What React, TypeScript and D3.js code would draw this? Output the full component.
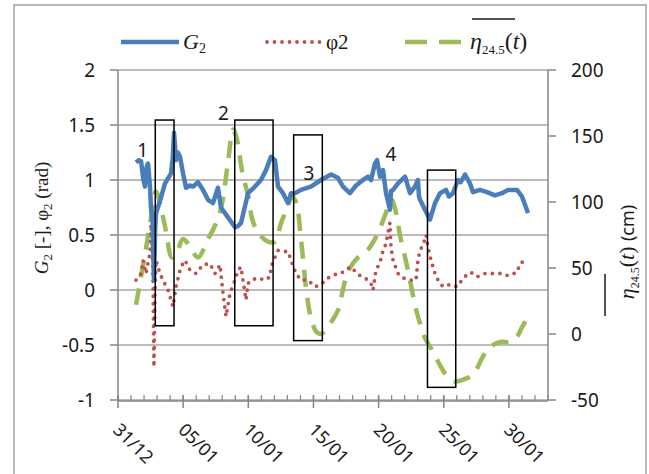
import React from 'react';
import * as d3 from 'd3';

// day offsets counted from 31/12
const tickDays = [0, 5, 10, 15, 20, 25, 30];
const tickLabels = ['31/12', '05/01', '10/01', '15/01', '20/01', '25/01', '30/01'];
const leftTicks = [-1, -0.5, 0, 0.5, 1, 1.5, 2];
const rightTicks = [-50, 0, 50, 100, 150, 200];

const g2Data: [number, number][] = [
  [1.38, 1.16], [1.6, 1.18], [1.77, 1.17], [1.95, 1.0], [2.07, 0.94], [2.2, 1.12], [2.3, 1.15],
  [2.45, 0.95], [2.53, 0.75], [2.65, 0.62], [2.76, 0.09], [2.85, 0.55], [2.92, 0.7], [3.2, 0.8],
  [3.61, 0.97], [4.07, 1.06], [4.2, 1.2], [4.3, 1.43], [4.45, 1.18], [4.6, 1.25], [4.76, 1.21],
  [4.99, 1.06], [5.22, 0.93], [5.5, 0.95], [5.76, 0.94], [6.14, 0.98], [6.52, 0.91], [6.91, 0.82],
  [7.29, 0.79], [7.67, 0.93], [7.9, 0.75], [8.44, 0.66], [8.98, 0.57], [9.2, 0.58], [9.44, 0.61],
  [9.98, 0.88], [10.51, 0.94], [10.97, 1.0], [11.36, 1.09], [11.74, 1.21], [12.05, 1.18],
  [12.28, 0.94], [12.66, 0.88], [13.05, 0.79], [13.28, 0.88], [13.58, 0.88], [14.04, 0.91],
  [14.81, 0.94], [15.58, 1.0], [16.35, 1.05], [16.88, 1.02], [17.27, 0.94], [17.8, 0.88],
  [18.27, 0.95], [18.8, 1.0], [19.19, 1.03], [19.42, 1.0], [19.72, 1.15], [19.88, 1.18],
  [20.11, 1.03], [20.34, 1.09], [20.57, 0.88], [20.87, 0.73], [20.95, 0.9], [21.11, 0.91],
  [21.49, 0.97], [22.03, 1.03], [22.41, 0.88], [22.79, 0.94], [23.02, 1.0], [23.1, 0.85],
  [23.18, 0.82], [23.56, 0.73], [23.94, 0.64], [24.33, 0.79], [24.71, 0.88], [25.17, 0.91],
  [25.4, 0.85], [25.71, 0.88], [26.09, 1.0], [26.3, 0.98], [26.63, 1.05], [27.01, 0.97],
  [27.24, 0.89], [27.78, 0.91], [28.32, 0.89], [28.93, 0.86], [29.47, 0.88], [29.93, 0.91],
  [30.62, 0.91], [31.0, 0.85], [31.47, 0.7],
];

const phi2Data: [number, number][] = [
  [1.38, 0.09], [1.77, 0.15], [1.92, 0.27], [2.15, 0.15], [2.46, 0.34], [2.53, 0.6], [2.61, 0.45],
  [2.69, 0.1], [2.72, -0.3], [2.76, -0.7], [2.84, 0.0], [2.92, 0.27], [3.22, 0.15], [3.45, 0.09],
  [3.84, 0.0], [4.22, -0.15], [4.45, 0.03], [4.83, 0.21], [5.14, 0.27], [5.53, 0.18], [5.99, 0.15],
  [6.52, 0.23], [7.06, 0.24], [7.44, 0.15], [7.83, 0.23], [8.06, -0.03], [8.29, -0.24],
  [8.6, -0.03], [8.98, 0.09], [9.21, 0.18], [9.44, 0.21], [9.59, 0.09], [9.75, -0.03],
  [9.82, -0.09], [9.98, 0.06], [10.21, 0.09], [10.74, 0.11], [11.28, 0.09], [11.67, 0.12],
  [11.74, 0.21], [12.05, 0.3], [12.28, 0.36], [12.66, 0.35], [13.05, 0.35], [13.28, 0.27],
  [13.66, 0.15], [14.04, 0.09], [14.58, 0.09], [15.12, 0.03], [15.58, 0.05], [16.12, 0.11],
  [16.65, 0.14], [17.11, 0.15], [17.42, 0.18], [17.88, 0.21], [18.42, 0.14], [18.96, 0.11],
  [19.42, 0.06], [19.57, 0.0], [19.8, 0.18], [20.11, 0.25], [20.34, 0.36], [20.57, 0.42],
  [20.72, 0.52], [20.87, 0.61], [20.95, 0.39], [21.11, 0.27], [21.49, 0.15], [21.87, 0.11],
  [22.41, 0.09], [22.87, 0.09], [23.02, 0.27], [23.18, 0.36], [23.41, 0.41], [23.64, 0.5],
  [23.79, 0.39], [24.02, 0.27], [24.33, 0.15], [24.56, 0.09], [24.94, 0.03], [25.48, 0.05],
  [26.02, 0.03], [26.4, 0.09], [26.78, 0.14], [27.09, 0.16], [27.55, 0.12], [28.17, 0.15],
  [28.78, 0.15], [29.47, 0.15], [29.93, 0.13], [30.62, 0.16], [30.85, 0.24], [31.24, 0.27],
];

// eta (cm), right axis
const etaData: [number, number][] = [
  [1.38, 22], [2.07, 60], [2.53, 88], [2.92, 108], [3.38, 92], [3.68, 78], [4.14, 58], [4.6, 64],
  [4.99, 72], [5.53, 66], [6.14, 58], [6.91, 72], [7.44, 82], [7.9, 95], [8.44, 130], [8.83, 155],
  [9.06, 150], [9.59, 120], [9.98, 105], [10.36, 85], [10.9, 75], [11.51, 70], [12.05, 70],
  [12.51, 84], [12.97, 95], [13.35, 104], [13.66, 100], [14.04, 72], [14.43, 35], [14.81, 12],
  [15.2, 2], [15.5, 0], [15.89, 2], [16.42, 10], [16.88, 18], [17.42, 40], [17.8, 50],
  [18.42, 58], [19.19, 64], [19.72, 72], [20.18, 82], [20.57, 92], [20.95, 102], [21.26, 95],
  [21.64, 75], [22.26, 48], [22.79, 22], [23.18, 8], [23.56, -3], [24.1, -12], [24.79, -25],
  [25.25, -32], [25.86, -36], [26.63, -34], [27.24, -31], [28.01, -17], [28.55, -10],
  [29.32, -6], [30.08, -6], [30.62, -2], [31.0, 5], [31.47, 13],
];

// highlighted windows: [day0, day1, top, bottom] in left-axis units
const boxes: [number, number, number, number][] = [
  [2.86, 4.3, 1.545, -0.325],
  [8.96, 11.9, 1.545, -0.325],
  [13.48, 15.68, 1.41, -0.46],
  [23.75, 25.92, 1.09, -0.885],
];
const boxLabels: [string, number, number][] = [
  ['1', 1.9, 1.27], ['2', 8.1, 1.61], ['3', 14.65, 1.06], ['4', 20.95, 1.23],
];

export default function App() {
  const width = 649;
  const height = 474;
  const x = d3.scaleLinear().domain([0, 33]).range([118, 548]);
  const yL = d3.scaleLinear().domain([-1, 2]).range([400, 70]);
  const yR = d3.scaleLinear().domain([-50, 200]).range([400, 70]);

  const lineL = d3.line<[number, number]>().x(d => x(d[0])).y(d => yL(d[1]));
  const lineEta = d3.line<[number, number]>().x(d => x(d[0])).y(d => yR(d[1])).curve(d3.curveCatmullRom);

  const sans = '"Noto Sans", "Open Sans", sans-serif';
  const serif = '"Liberation Serif", "DejaVu Serif", serif';
  const grid = '#a6a6a6';
  const blue = '#4A7EBB';
  const red = '#C0504D';
  const green = '#9BBB59';
  const minor = d3.range(0, 34);

  return (
    <svg width={width} height={height} style={{position: 'absolute', left: 0, top: 0, background: '#fff'}}>
      <rect x={14} y={5} width={632} height={490} fill="#fff" stroke="#a0a0a0" strokeWidth={1.5} />

      {leftTicks.map(t => (
        <line key={'g' + t} x1={118} x2={548} y1={yL(t)} y2={yL(t)} stroke={grid} strokeWidth={1.5} />
      ))}

      {/* axes */}
      <line x1={118} x2={118} y1={70} y2={400} stroke="#868686" strokeWidth={1.5} />
      <line x1={548} x2={548} y1={70} y2={400} stroke="#868686" strokeWidth={1.5} />
      <line x1={118} x2={548} y1={401} y2={401} stroke="#868686" strokeWidth={1.5} />
      {leftTicks.map(t => (
        <g key={'lt' + t}>
          <line x1={110} x2={118} y1={yL(t)} y2={yL(t)} stroke="#868686" strokeWidth={1.5} />
          <text x={95} y={yL(t)} dy="0.35em" textAnchor="end" fontFamily={sans} fontSize={19} fill="#1a1a1a">{t}</text>
        </g>
      ))}
      {rightTicks.map(t => (
        <g key={'rt' + t}>
          <line x1={548} x2={556} y1={yR(t)} y2={yR(t)} stroke="#868686" strokeWidth={1.5} />
          <text x={571} y={yR(t)} dy="0.35em" textAnchor="start" fontFamily={sans} fontSize={19} fill="#1a1a1a">{t}</text>
        </g>
      ))}
      {minor.map(d => (
        <line key={'m' + d} x1={x(d)} x2={x(d)} y1={395} y2={401} stroke="#868686" strokeWidth={1.2} />
      ))}
      {tickDays.map((d, i) => (
        <g key={'xt' + d}>
          <line x1={x(d)} x2={x(d)} y1={395} y2={408} stroke="#868686" strokeWidth={1.5} />
          <text transform={`translate(${x(d) - 6},431) rotate(45)`} fontFamily={sans} fontSize={18} fill="#1a1a1a">{tickLabels[i]}</text>
        </g>
      ))}

      {/* series */}
      <path d={lineEta(etaData) || ''} fill="none" stroke={green} strokeWidth={4.5} strokeDasharray="17 11" />
      <path d={lineL(phi2Data) || ''} fill="none" stroke={red} strokeWidth={3.8} strokeDasharray="0 7.5" strokeLinecap="round" />
      <path d={lineL(g2Data) || ''} fill="none" stroke={blue} strokeWidth={4.5} strokeLinejoin="round" />

      {boxes.map((b, i) => (
        <rect key={'b' + i} x={x(b[0])} y={yL(b[2])} width={x(b[1]) - x(b[0])} height={yL(b[3]) - yL(b[2])}
          fill="none" stroke="#000" strokeWidth={1.5} />
      ))}
      {boxLabels.map(l => (
        <text key={'bl' + l[0]} x={x(l[1])} y={yL(l[2])} dy="0.35em" textAnchor="middle" fontFamily={sans} fontSize={19} fill="#1a1a1a">{l[0]}</text>
      ))}

      {/* axis titles */}
      <text transform="translate(48,218) rotate(-90)" textAnchor="middle" fontFamily={serif} fontSize={19} fill="#1a1a1a">
        <tspan fontStyle="italic">G</tspan><tspan fontSize={13} dy={4}>2</tspan><tspan dy={-4}> [-], φ</tspan><tspan fontSize={13} dy={4}>2</tspan><tspan dy={-4}> (rad)</tspan>
      </text>
      <g transform="translate(634,252) rotate(-90)">
        <text textAnchor="middle" fontFamily={serif} fontSize={22} fill="#1a1a1a">
          <tspan fontStyle="italic">η</tspan><tspan fontSize={12} dy={5}>24.5</tspan><tspan dy={-5}>(</tspan><tspan fontStyle="italic">t</tspan><tspan>) </tspan><tspan fontFamily={sans} fontSize={18}>(cm)</tspan>
        </text>
        <line x1={-64} x2={-22} y1={-29} y2={-29} stroke="#1a1a1a" strokeWidth={1.5} />
      </g>

      {/* legend */}
      <line x1={121} x2={179} y1={42} y2={42} stroke={blue} strokeWidth={4.5} />
      <text x={183} y={49} fontFamily={serif} fontSize={22} fill="#1a1a1a">
        <tspan fontStyle="italic">G</tspan><tspan fontSize={14} dy={4}>2</tspan>
      </text>
      <line x1={267} x2={321} y1={42} y2={42} stroke={red} strokeWidth={3.8} strokeDasharray="0 7.5" strokeLinecap="round" />
      <text x={326} y={49} fontFamily={serif} fontSize={21} fill="#1a1a1a">φ2</text>
      <line x1={405} x2={461} y1={42} y2={42} stroke={green} strokeWidth={4.5} strokeDasharray="22 12" />
      <text x={470} y={49} fontFamily={serif} fontSize={24} fill="#1a1a1a">
        <tspan fontStyle="italic">η</tspan><tspan fontSize={13} dy={5}>24.5</tspan><tspan dy={-5}>(</tspan><tspan fontStyle="italic">t</tspan><tspan>)</tspan>
      </text>
      <line x1={472} x2={515} y1={19} y2={19} stroke="#1a1a1a" strokeWidth={1.5} />
    </svg>
  );
}
